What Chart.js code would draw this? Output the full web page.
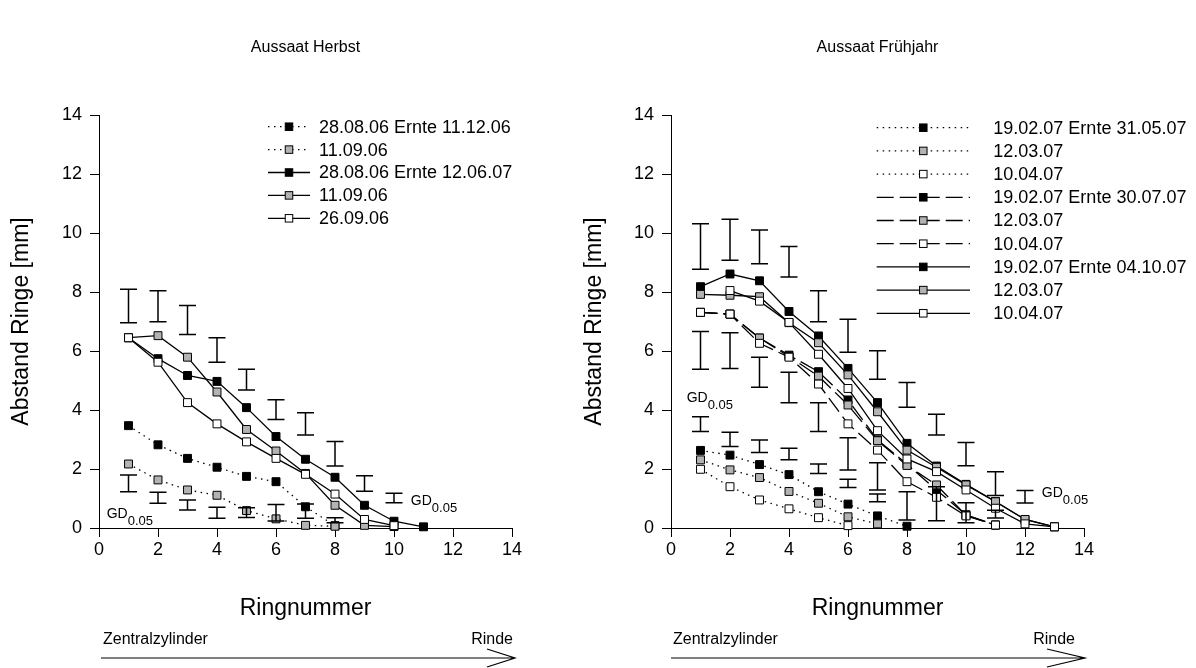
<!DOCTYPE html>
<html>
<head>
<meta charset="utf-8">
<title>Abstand Ringe – Aussaat Herbst / Frühjahr</title>
<script src="https://cdn.jsdelivr.net/npm/chart.js@4.4.1/dist/chart.umd.min.js"></script>
<style>
  html, body { margin: 0; padding: 0; background: #fff; }
  body { width: 1196px; height: 668px; position: relative; overflow: hidden; }
  canvas { position: absolute; top: 0; }
  #herbst { left: 0; }
  #fruehjahr { left: 573px; }
</style>
</head>
<body>
<canvas id="herbst" width="573" height="668"></canvas>
<canvas id="fruehjahr" width="623" height="668"></canvas>
<script>
const FONT = "'Liberation Sans', Arial, Helvetica, sans-serif";
Chart.defaults.font.family = FONT;
Chart.defaults.color = '#000';

// ---- Aussaat Herbst: Abstand Ringe [mm] je Ringnummer (Ring 1, 2, 3 ...) ----
const herbstLabels = ['28.08.06 Ernte 11.12.06', '11.09.06', '28.08.06 Ernte 12.06.07', '11.09.06', '26.09.06'];
const herbst2808Dez = [3.47, 2.82, 2.36, 2.06, 1.75, 1.57, 0.72, 0.08];
const herbst1109Dez = [2.17, 1.63, 1.29, 1.11, 0.59, 0.31, 0.09, 0.06];
const herbst2808Jun = [6.45, 5.74, 5.17, 4.97, 4.08, 3.10, 2.33, 1.72, 0.77, 0.23, 0.04];
const herbst1109Jun = [6.45, 6.52, 5.79, 4.61, 3.34, 2.61, 1.85, 0.77, 0.09, 0.05];
const herbst2609Jun = [6.45, 5.62, 4.25, 3.53, 2.92, 2.36, 1.82, 1.15, 0.29, 0.08];

// GD 0.05 (Grenzdifferenz) – unteres / oberes Ende je Ring
const herbstGdJunLo = [6.96, 6.99, 6.56, 5.62, 4.68, 3.68, 3.15, 2.10, 1.25];
const herbstGdJunHi = [8.09, 8.04, 7.54, 6.45, 5.38, 4.35, 3.91, 2.93, 1.77];
const herbstGdDezLo = [1.23, 0.84, 0.61, 0.33, 0.36, 0.24, 0.33, 0.18];
const herbstGdDezHi = [1.80, 1.21, 0.95, 0.70, 0.69, 0.80, 0.81, 0.35];
const herbstGdRef = [10, 0.86, 1.18]; // Ring, unten, oben

// ---- Aussaat Frühjahr ----
const fruehLabels = ['19.02.07 Ernte 31.05.07', '12.03.07', '10.04.07',
                     '19.02.07 Ernte 30.07.07', '12.03.07', '10.04.07',
                     '19.02.07 Ernte 04.10.07', '12.03.07', '10.04.07'];
const frueh1902Mai = [2.63, 2.47, 2.15, 1.81, 1.23, 0.81, 0.41, 0.06];
const frueh1203Mai = [2.31, 1.97, 1.71, 1.24, 0.84, 0.38, 0.14];
const frueh1004Mai = [1.99, 1.40, 0.95, 0.65, 0.35, 0.08];
const frueh1902Jul = [7.31, 7.25, 6.44, 5.86, 5.30, 4.34, 2.99, 2.16, 1.29, 0.45, 0.10];
const frueh1203Jul = [7.31, 7.25, 6.44, 5.81, 5.15, 4.17, 2.96, 2.12, 1.46, 0.43, 0.10];
const frueh1004Jul = [7.31, 7.25, 6.26, 5.79, 4.88, 3.53, 2.64, 1.57, 1.04, 0.41, 0.10];
const frueh1902Okt = [8.18, 8.61, 8.38, 7.34, 6.51, 5.41, 4.25, 2.87, 2.10, 1.48, 0.90, 0.29, 0.04];
const frueh1203Okt = [7.92, 7.89, 7.84, 6.96, 6.28, 5.19, 3.94, 2.64, 2.06, 1.46, 0.89, 0.29, 0.04];
const frueh1004Okt = [null, 8.05, 7.69, 6.97, 5.89, 4.73, 3.30, 2.34, 1.91, 1.29, 0.67, 0.14, 0.04];

const fruehGdOktLo = [8.77, 9.08, 8.96, 8.51, 6.99, 5.96, 5.04, 4.09, 3.15, 2.11, 1.10];
const fruehGdOktHi = [10.31, 10.47, 10.10, 9.54, 8.04, 7.08, 6.01, 4.93, 3.86, 2.90, 1.91];
const fruehGdJulLo = [5.38, 5.41, 4.77, 4.25, 3.27, 1.97, 1.29, 0.27, 0.25, 0.18, 0.34];
const fruehGdJulHi = [6.66, 6.62, 5.79, 5.28, 4.25, 3.06, 2.21, 1.23, 1.40, 0.86, 0.60];
const fruehGdMaiLo = [3.27, 2.76, 2.56, 2.31, 1.85, 1.37, 0.89];
const fruehGdMaiHi = [3.77, 3.25, 2.98, 2.70, 2.17, 1.65, 1.15];
const fruehGdRef = [12, 0.85, 1.27];

const axisTicks = [0, 2, 4, 6, 8, 10, 12, 14];

// ---- Styles ----
const FILL = { black: '#000000', gray: '#b3b3b3', white: '#ffffff' };
const DASH = { dot: [1.5, 4.5], dash: [17, 6], solid: [] };

function lineSet(label, values, fill, dash, index) {
  return {
    label,
    data: values.map((v, i) => ({ x: i + 1, y: v })),
    borderColor: '#000',
    borderWidth: 1.3,
    borderDash: DASH[dash],
    pointStyle: 'rect',
    pointRadius: 5.6,
    pointBackgroundColor: FILL[fill],
    pointBorderColor: '#000',
    pointBorderWidth: 1,
    fill: false,
    tension: 0,
    spanGaps: false,
    clip: false,
    order: -index
  };
}

function drawGd(ctx, px, py) {
  ctx.font = `14px ${FONT}`;
  ctx.textBaseline = 'alphabetic';
  ctx.textAlign = 'left';
  ctx.fillStyle = '#000';
  ctx.fillText('GD', px, py);
  const w = ctx.measureText('GD').width;
  ctx.font = `13px ${FONT}`;
  ctx.fillText('0.05', px + w, py + 7);
}

function makePanel(canvasId, cfg) {
  const decor = {
    id: 'panelDecor',
    afterDatasetsDraw(chart) {
      const { ctx, scales: { x, y } } = chart;
      ctx.save();
      ctx.setLineDash([]);
      ctx.strokeStyle = '#000';
      ctx.lineWidth = 1.5;
      const cap = 8.5;
      const bar = (ring, lo, hi) => {
        const px = x.getPixelForValue(ring);
        const p1 = y.getPixelForValue(lo), p2 = y.getPixelForValue(hi);
        ctx.beginPath();
        ctx.moveTo(px, p1); ctx.lineTo(px, p2);
        ctx.moveTo(px - cap, p1); ctx.lineTo(px + cap, p1);
        ctx.moveTo(px - cap, p2); ctx.lineTo(px + cap, p2);
        ctx.stroke();
      };
      cfg.gd.forEach(g => g.lo.forEach((lo, i) => bar(i + 1, lo, g.hi[i])));
      bar(cfg.gdRef[0], cfg.gdRef[1], cfg.gdRef[2]);
      cfg.gdText.forEach(([gx, gy]) => drawGd(ctx, x.getPixelForValue(gx), y.getPixelForValue(gy)));
      ctx.restore();
    },
    afterDraw(chart) {
      const { ctx, chartArea } = chart;
      const L = cfg.legend;
      ctx.save();
      chart.data.datasets.forEach((ds, i) => {
        const yy = L.y0 + i * L.dy;
        ctx.strokeStyle = '#000';
        ctx.lineWidth = ds.borderWidth;
        ctx.setLineDash(ds.borderDash);
        ctx.beginPath();
        ctx.moveTo(L.x0, yy); ctx.lineTo(L.x1, yy);
        ctx.stroke();
        ctx.setLineDash([]);
        const s = 7.5;
        ctx.fillStyle = ds.pointBackgroundColor;
        ctx.fillRect(L.mx - s / 2, yy - s / 2, s, s);
        ctx.lineWidth = 1;
        ctx.strokeRect(L.mx - s / 2, yy - s / 2, s, s);
        ctx.fillStyle = '#000';
        ctx.font = `18px ${FONT}`;
        ctx.textBaseline = 'middle';
        ctx.textAlign = 'left';
        ctx.fillText(ds.label, L.tx, yy + 1);
      });

      // Richtung: Zentralzylinder -> Rinde
      const A = cfg.arrow;
      const ax0 = chartArea.left + A.startOff, ax1 = chartArea.right + A.endOff;
      ctx.strokeStyle = '#000';
      ctx.lineWidth = 1.2;
      ctx.beginPath();
      ctx.moveTo(ax0, A.y); ctx.lineTo(ax1, A.y);
      ctx.moveTo(ax1 - A.head, A.y - 9); ctx.lineTo(ax1, A.y);
      ctx.lineTo(ax1 - A.head, A.y + 9);
      ctx.stroke();
      ctx.font = `16px ${FONT}`;
      ctx.fillStyle = '#000';
      ctx.textBaseline = 'alphabetic';
      ctx.textAlign = 'left';
      ctx.fillText('Zentralzylinder', chartArea.left + A.textOff, A.textY);
      ctx.textAlign = 'right';
      ctx.fillText('Rinde', chartArea.right + A.rindeOff, A.textY);
      ctx.restore();
    }
  };

  return new Chart(document.getElementById(canvasId), {
    type: 'line',
    data: { datasets: cfg.datasets },
    options: {
      responsive: false,
      animation: false,
      events: [],
      layout: { padding: { left: 0, top: 0, right: cfg.padRight, bottom: 40 } },
      plugins: {
        legend: { display: false },
        tooltip: { enabled: false },
        title: {
          display: true,
          text: cfg.title,
          fullSize: false,
          color: '#000',
          font: { size: 16, weight: 'normal', lineHeight: 1.2 },
          padding: { top: 38.4, bottom: 57.4 }
        }
      },
      scales: {
        x: {
          type: 'linear', min: 0, max: 14,
          afterFit(s) { s.height = 100; },
          afterBuildTicks(s) { s.ticks = axisTicks.map(v => ({ value: v })); },
          ticks: { font: { size: 18 }, color: '#000', padding: 2, maxRotation: 0 },
          grid: { drawOnChartArea: false, drawTicks: true, tickLength: 9, color: '#000', lineWidth: 1 },
          border: { display: true, color: '#000', width: 1 },
          title: { display: true, text: 'Ringnummer', color: '#000', font: { size: 23 }, padding: { top: 0, bottom: 6 } }
        },
        y: {
          type: 'linear', min: 0, max: 14,
          afterFit(s) { s.width = cfg.axisWidth; },
          afterBuildTicks(s) { s.ticks = axisTicks.map(v => ({ value: v })); },
          ticks: { font: { size: 18 }, color: '#000', padding: 8 },
          grid: { drawOnChartArea: false, drawTicks: true, tickLength: 9, color: '#000', lineWidth: 1 },
          border: { display: true, color: '#000', width: 1 },
          title: { display: true, text: 'Abstand Ringe [mm]', color: '#000', font: { size: 23 }, padding: { top: 8, bottom: 0 } }
        }
      }
    },
    plugins: [decor]
  });
}

makePanel('herbst', {
  title: 'Aussaat Herbst',
  axisWidth: 99,
  padRight: 61,
  datasets: [
    lineSet(herbstLabels[0], herbst2808Dez, 'black', 'dot', 0),
    lineSet(herbstLabels[1], herbst1109Dez, 'gray', 'dot', 1),
    lineSet(herbstLabels[2], herbst2808Jun, 'black', 'solid', 2),
    lineSet(herbstLabels[3], herbst1109Jun, 'gray', 'solid', 3),
    lineSet(herbstLabels[4], herbst2609Jun, 'white', 'solid', 4)
  ],
  gd: [
    { lo: herbstGdJunLo, hi: herbstGdJunHi },
    { lo: herbstGdDezLo, hi: herbstGdDezHi }
  ],
  gdRef: herbstGdRef,
  gdText: [[0.26, 0.33], [10.57, 0.78]],
  legend: { x0: 268, x1: 310, mx: 289, tx: 319, y0: 126.7, dy: 22.9 },
  arrow: { y: 658, startOff: 2, endOff: 3, head: 28, textOff: 4, rindeOff: 1, textY: 644 }
});

makePanel('fruehjahr', {
  title: 'Aussaat Frühjahr',
  axisWidth: 98,
  padRight: 112,
  datasets: [
    lineSet(fruehLabels[0], frueh1902Mai, 'black', 'dot', 0),
    lineSet(fruehLabels[1], frueh1203Mai, 'gray', 'dot', 1),
    lineSet(fruehLabels[2], frueh1004Mai, 'white', 'dot', 2),
    lineSet(fruehLabels[3], frueh1902Jul, 'black', 'dash', 3),
    lineSet(fruehLabels[4], frueh1203Jul, 'gray', 'dash', 4),
    lineSet(fruehLabels[5], frueh1004Jul, 'white', 'dash', 5),
    lineSet(fruehLabels[6], frueh1902Okt, 'black', 'solid', 6),
    lineSet(fruehLabels[7], frueh1203Okt, 'gray', 'solid', 7),
    lineSet(fruehLabels[8], frueh1004Okt, 'white', 'solid', 8)
  ],
  gd: [
    { lo: fruehGdOktLo, hi: fruehGdOktHi },
    { lo: fruehGdJulLo, hi: fruehGdJulHi },
    { lo: fruehGdMaiLo, hi: fruehGdMaiHi }
  ],
  gdRef: fruehGdRef,
  gdText: [[0.53, 4.28], [12.57, 1.06]],
  legend: { x0: 303.7, x1: 397, mx: 350.3, tx: 420.3, y0: 127.7, dy: 23.2 },
  arrow: { y: 658, startOff: 0, endOff: 1, head: 38, textOff: 2, rindeOff: -9, textY: 644 }
});
</script>
</body>
</html>
